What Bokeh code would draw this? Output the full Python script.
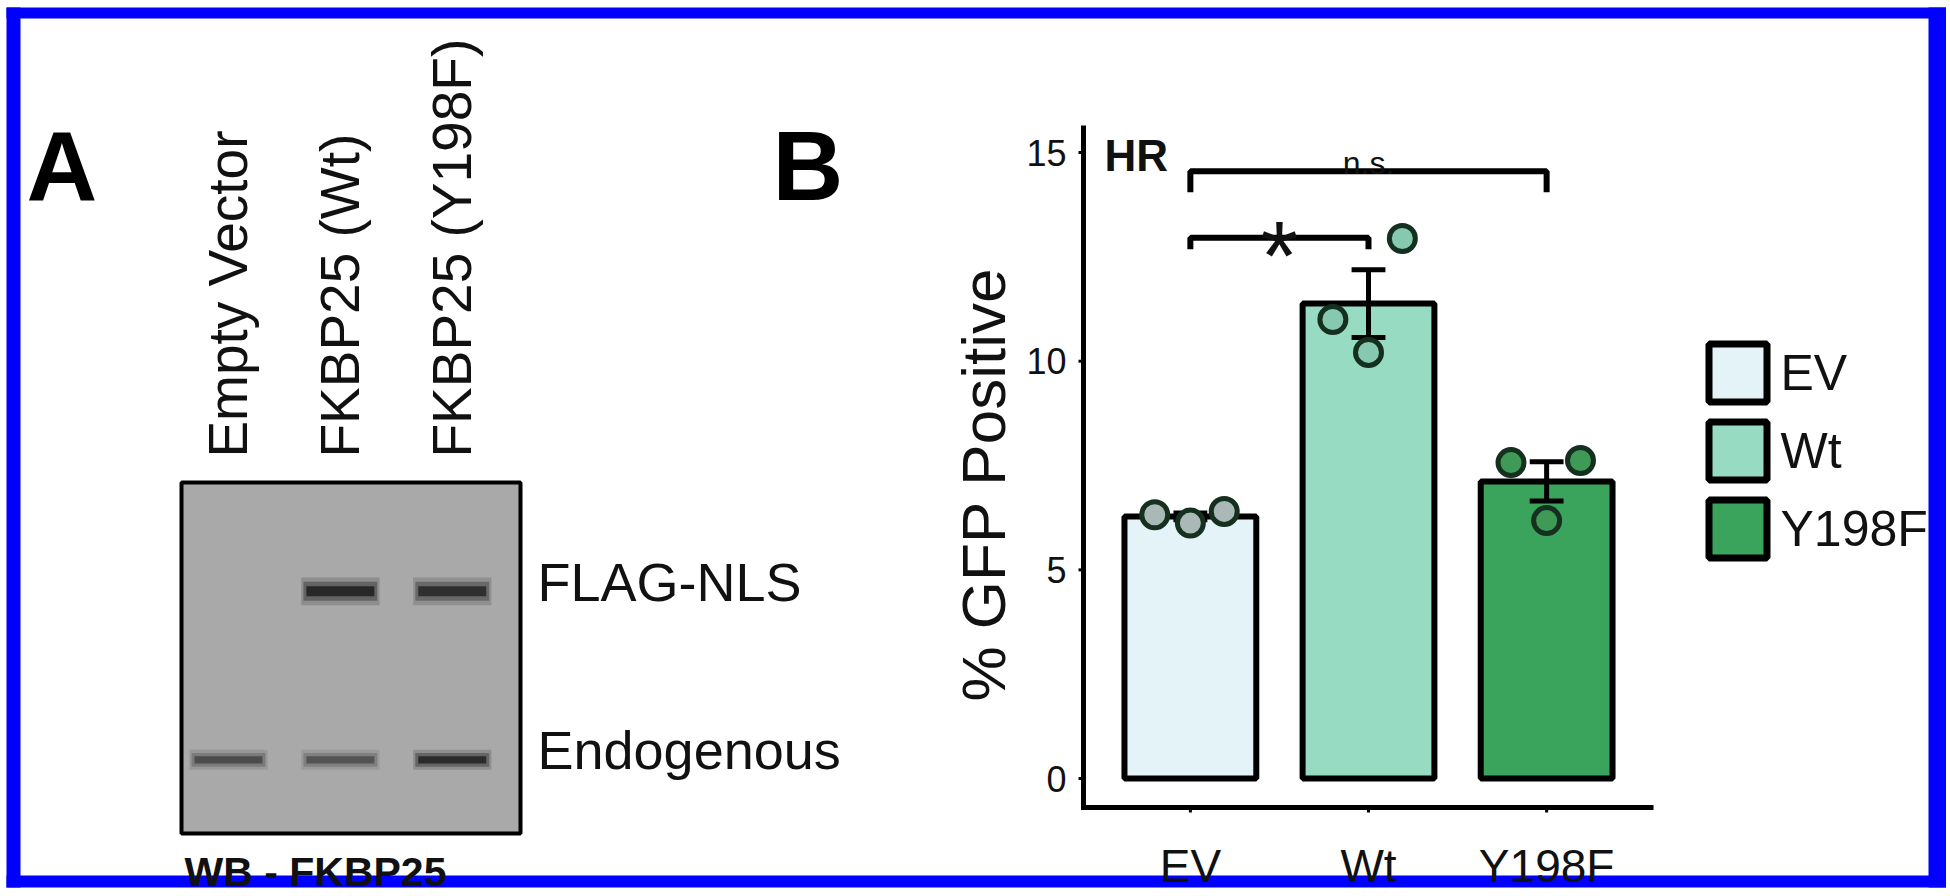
import math
from bokeh.plotting import figure
from bokeh.models import Range1d
from bokeh.embed import file_html
from bokeh.resources import INLINE
from bokeh.core.properties import value

# ---------------- Panel A: western blot ----------------
lanes = ["Empty Vector", "FKBP25 (Wt)", "FKBP25 (Y198F)"]
band_names = ["FLAG-NLS", "Endogenous"]
band_migration = [31, 79]          # % of gel length from the top
flag_intensity = [0.0, 1.0, 0.9]
endo_intensity = [0.6, 0.55, 0.95]
blot_label = "WB - FKBP25"

# ---------------- Panel B: HR assay ----------------
groups = ["EV", "Wt", "Y198F"]
means = [6.28, 11.38, 7.12]
sems = [0.08, 0.81, 0.47]
ev_points = [6.32, 6.12, 6.40]
wt_points = [11.00, 10.21, 12.94]
y198f_points = [7.57, 6.18, 7.62]
y_ticks = [0, 5, 10, 15]
comparisons = [("EV", "Wt", "*"), ("EV", "Y198F", "n.s.")]
bracket_heights = [12.96, 14.55]

# ---------------- styles ----------------
FONT = "Liberation Sans"
BLUE = "#0000ff"
TXT = "#111111"
bar_colors = ["#e3f3f7", "#97dbc2", "#3aa35c"]
point_fills = ["#aab8b8", "#86c9b0", "#3f9a58"]
point_line = "#16301f"
jitter = [-0.2, 0.0, 0.19]

W, H = 1946, 890


# page-pixel helpers
def gx(px):   # page x -> gel lane units
    return 0.58 + (px - 181) / 111.88


def gy(py):   # page y -> gel migration units
    return (py - 482) / 3.51


def cx(px):   # page x -> chart group units
    return 0.4 + (px - 1083) / 178.125


def cy(py):   # page y -> chart % units
    return (778 - py) / 41.73


p = figure(width=W, height=H, title=None, toolbar_location=None, output_backend="svg",
           x_axis_type=None, y_axis_type=None, min_border=0, outline_line_color=None,
           background_fill_color="white", border_fill_color="white",
           x_range=Range1d(gx(0), gx(W)), y_range=Range1d(gy(H), gy(0)))
p.extra_x_ranges = {"cx": Range1d(cx(0), cx(W))}
p.extra_y_ranges = {"cy": Range1d(cy(H), cy(0))}
C = dict(x_range_name="cx", y_range_name="cy")

# ---------------- blue frame ----------------
p.quad(left=[gx(6), gx(6), gx(1928), gx(6)], right=[gx(20), gx(W), gx(W), gx(W)],
       top=[gy(7), gy(7), gy(7), gy(875)], bottom=[gy(887), gy(18), gy(887), gy(887)],
       fill_color=BLUE, line_color=None)

# ---------------- panel A ----------------
lane_x = [i + 1 for i in range(len(lanes))]
gel_left, gel_right = 0.58, 3.61
p.quad(left=[gel_left], right=[gel_right], top=[0], bottom=[100],
       fill_color="#a9a9a9", line_color="black", line_width=4)

band_x, band_y, band_i, band_h = [], [], [], []
for k, ints in enumerate([flag_intensity, endo_intensity]):
    for j, it in enumerate(ints):
        band_x.append(lane_x[j])
        band_y.append(band_migration[k])
        band_i.append(it)
        band_h.append(3.6 if k == 0 else 2.6)

for sh, sw, a in [(2.2, 1.06, 0.18), (1.5, 1.0, 0.35), (0.8, 0.92, 0.75)]:
    p.rect(x=band_x, y=band_y, width=0.66 * sw, height=[h * sh for h in band_h],
           fill_color="#141414", fill_alpha=[a * i for i in band_i], line_color=None)

p.text(x=lane_x, y=[-7.1] * len(lanes), text=lanes, angle=math.pi / 2,
       text_font=value(FONT), text_font_size="55px", text_color=TXT,
       text_align="left", text_baseline="middle")
p.text(x=[gel_right + 0.152] * len(band_names), y=[m - 2.7 for m in band_migration],
       text=band_names, text_font=value(FONT), text_font_size="54px", text_color=TXT,
       text_align="left", text_baseline="middle")
p.text(x=[gx(184)], y=[gy(871)], text=[blot_label], text_font=value(FONT),
       text_font_style="bold", text_font_size="41px", text_color=TXT,
       text_align="left", text_baseline="alphabetic")

# ---------------- panel B: axes ----------------
x0, x1, y0, y1 = 0.4, 3.6, -0.695, 15.648
tick_x = 5 / 178.125
tick_y = 5 / 41.73
xs = [i + 1 for i in range(len(groups))]

p.line(x=[x0, x0, x1], y=[y1, y0, y0], line_width=5, line_color="black", line_join="miter", **C)
p.segment(x0=[x0 - tick_x] * len(y_ticks), x1=[x0] * len(y_ticks), y0=y_ticks, y1=y_ticks,
          line_width=3, line_color="black", **C)
p.text(x=[x0 - 17 / 178.125] * len(y_ticks), y=y_ticks, text=[str(t) for t in y_ticks],
       text_font=value(FONT), text_font_size="36px", text_color=TXT,
       text_align="right", text_baseline="middle", **C)
p.segment(x0=xs, x1=xs, y0=[y0] * len(xs), y1=[y0 - tick_y] * len(xs),
          line_width=3, line_color="black", **C)
p.text(x=xs, y=[cy(865)] * len(xs), text=groups, text_font=value(FONT), text_font_size="46px",
       text_color=TXT, text_align="center", text_baseline="alphabetic", **C)

# ---------------- panel B: bars, error bars, points ----------------
p.vbar(x=xs, top=means, width=0.74, fill_color=bar_colors, line_color="black",
       line_width=6, **C)
upper = [m + s for m, s in zip(means, sems)]
lower = [m - s for m, s in zip(means, sems)]
cap = 0.095
p.segment(x0=xs, x1=xs, y0=lower, y1=upper, line_width=5, line_color="black", **C)
p.segment(x0=[x - cap for x in xs] * 2, x1=[x + cap for x in xs] * 2, y0=upper + lower,
          y1=upper + lower, line_width=5, line_color="black", **C)

px, py, pf = [], [], []
for i, pts in enumerate([ev_points, wt_points, y198f_points]):
    for j, v in enumerate(pts):
        px.append(xs[i] + jitter[j])
        py.append(v)
        pf.append(point_fills[i])
p.scatter(x=px, y=py, size=26, fill_color=pf, line_color=point_line, line_width=5, **C)

# ---------------- significance brackets ----------------
legs = [0.28, 0.5]
txt_off = [-0.43, 0.19]
txt_size = ["98px", "32px"]
for (a, b, lab), h, d in zip(comparisons, bracket_heights, legs):
    xa = groups.index(a) + 1
    xb = groups.index(b) + 1
    p.line(x=[xa, xa, xb, xb], y=[h - d, h, h, h - d], line_width=6, line_color="black", **C)

p.text(x=[cx(1104)], y=[14.93], text=["HR"], text_font=value(FONT), text_font_style="bold",
       text_font_size="44px", text_align="left", text_baseline="alphabetic", text_color=TXT, **C)

# ---------------- fill key ----------------
key_cx = cx(1737.5)
key_cy = [cy(372.5 + 78 * i) for i in range(len(groups))]
p.rect(x=[key_cx] * len(groups), y=key_cy, width=58, height=58, width_units="screen",
       height_units="screen", fill_color=bar_colors, line_color="black", line_width=7, **C)
p.text(x=[cx(1780)] * len(groups), y=key_cy, text=groups, text_font=value(FONT),
       text_font_size="50px", text_color=TXT, text_align="left", text_baseline="middle", **C)

# ---------------- larger texts drawn last ----------------
p.text(x=[cx(983)], y=[cy(484)], text=["% GFP Positive"], angle=math.pi / 2,
       text_font=value(FONT), text_font_size="62px", text_color=TXT,
       text_align="center", text_baseline="alphabetic", **C)
for (a, b, lab), h, to, ts in zip(comparisons, bracket_heights, txt_off, txt_size):
    xa = groups.index(a) + 1
    xb = groups.index(b) + 1
    p.text(x=[(xa + xb) / 2], y=[h + to], text=[lab], text_font=value(FONT),
           text_font_size=ts, text_align="center", text_baseline="alphabetic",
           text_color=TXT, **C)
p.text(x=[gx(26), gx(772)], y=[gy(165), gy(165)], text=["A", "B"], text_font=value(FONT),
       text_font_style="bold", text_font_size="98px", text_color="black",
       text_align="left", text_baseline="alphabetic")

open("out.html", "w").write(file_html(p, INLINE))
